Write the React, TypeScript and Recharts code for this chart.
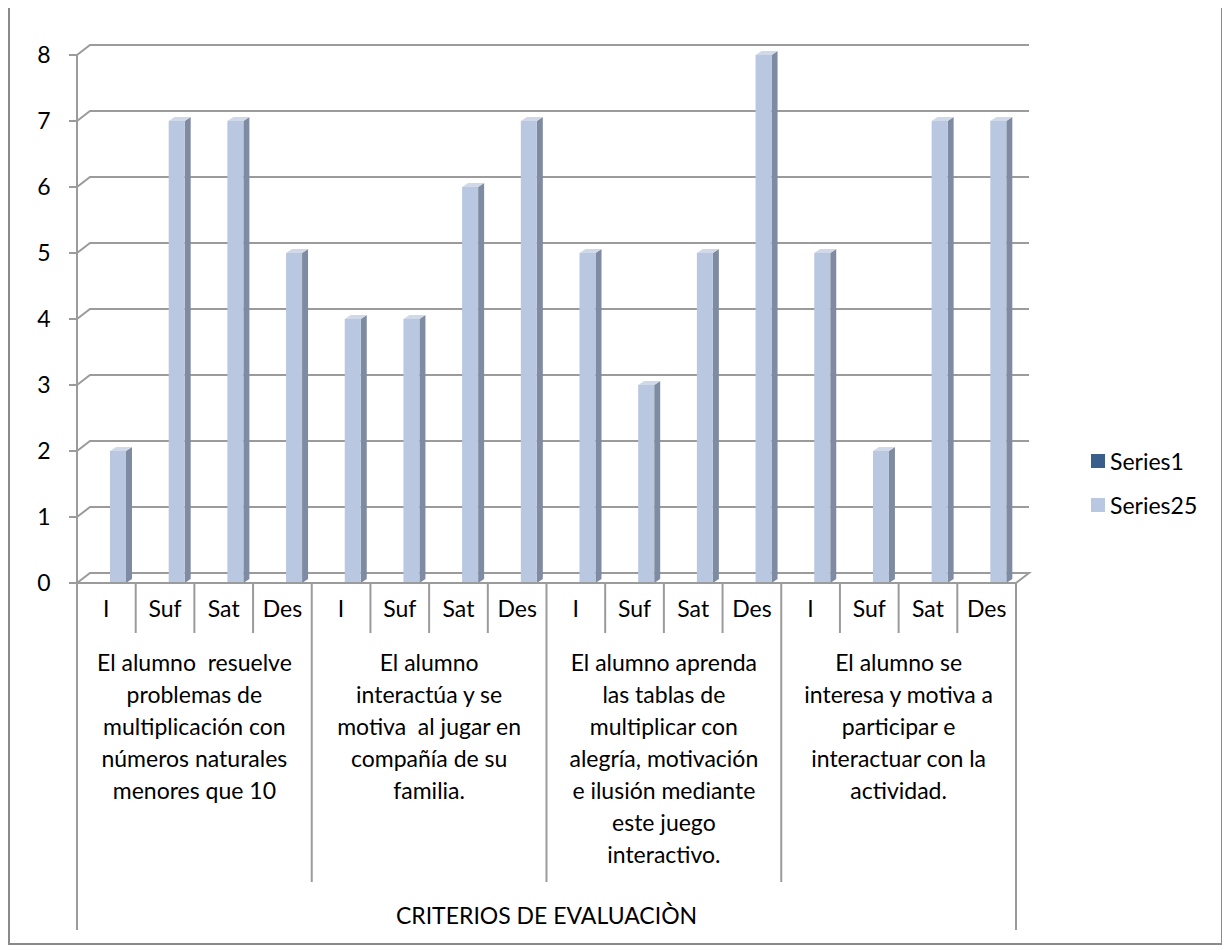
import { BarChart, Bar, XAxis, YAxis, CartesianGrid, Legend } from "recharts";

const categorias = ["I", "Suf", "Sat", "Des", "I", "Suf", "Sat", "Des", "I", "Suf", "Sat", "Des", "I", "Suf", "Sat", "Des"];
const grupos = ["G1", "G2", "G3", "G4"];
const gruposLineas = [
  ["El alumno  resuelve", "problemas de", "multiplicación con", "números naturales", "menores que 10"],
  ["El alumno", "interactúa y se", "motiva  al jugar en", "compañía de su", "familia."],
  ["El alumno aprenda", "las tablas de", "multiplicar con", "alegría, motivación", "e ilusión mediante", "este juego", "interactivo."],
  ["El alumno se", "interesa y motiva a", "participar e", "interactuar con la", "actividad."],
];
const series1: (number | null)[] = [null, null, null, null, null, null, null, null, null, null, null, null, null, null, null, null];
const series25 = [2, 7, 7, 5, 4, 4, 6, 7, 5, 3, 5, 8, 5, 2, 7, 7];
const yTicks = [0, 1, 2, 3, 4, 5, 6, 7, 8];
const tituloEje = "CRITERIOS DE EVALUACIÒN";

const data = categorias.map((cat, i) => ({
  cat,
  grupo: grupos[Math.floor(i / 4)],
  Series1: series1[i],
  Series25: series25[i],
}));

// layout (chart coords)
const W = 1211;
const H = 935;
const PLOT_LEFT = 67;
const PLOT_RIGHT = 1006;
const PLOT_BOTTOM = 575;
const BAND = (PLOT_RIGHT - PLOT_LEFT) / categorias.length;
const DX = 13;
const DY = 10;
const GRID = "#9b9b9b";
const FONT = "Lato, 'Noto Sans', sans-serif";
const FS = 23;
const FRONT = "#b9c7e0";
const SIDE = "#7f8ba2";
const TOP = "#cfd9ea";

const gridLine = (p: any) => {
  const { x1, x2, y1 } = p;
  const piso = Math.abs(y1 - PLOT_BOTTOM) < 1;
  const pts =
    `${x1},${y1} ${x1 + DX},${y1 - DY} ${x2 + DX},${y1 - DY}` + (piso ? ` ${x2},${y1}` : "");
  return <polyline key={p.key ?? `g${p.index}`} points={pts} fill="none" stroke={GRID} strokeWidth={2} />;
};

const YTick = (p: any) => (
  <text x={34} y={p.y} dy={8} textAnchor="middle" fontSize={FS} fontFamily={FONT} fill="#000">
    {p.payload.value}
  </text>
);

const CatTick = (p: any) => {
  const i = p.index ?? p.payload.index;
  const x = p.x;
  const der = x + BAND / 2;
  const largo = i === categorias.length - 1 ? 347 : (i + 1) % 4 === 0 ? 299 : 50;
  return (
    <g>
      {i === 0 && (
        <line x1={x - BAND / 2} y1={PLOT_BOTTOM} x2={x - BAND / 2} y2={PLOT_BOTTOM + 347} stroke={GRID} strokeWidth={2} />
      )}
      <line x1={der} y1={PLOT_BOTTOM} x2={der} y2={PLOT_BOTTOM + largo} stroke={GRID} strokeWidth={2} />
      <text x={x} y={PLOT_BOTTOM + 26} dy={8} textAnchor="middle" fontSize={FS} fontFamily={FONT} fill="#000">
        {p.payload.value}
      </text>
    </g>
  );
};

const GrupoTick = (p: any) => {
  const i = p.index ?? p.payload.index;
  if (i % 4 !== 1) return <g />;
  const cx = p.x + BAND / 2;
  const lineas = gruposLineas[Math.floor(i / 4)];
  return (
    <text x={cx} y={PLOT_BOTTOM + 80} textAnchor="middle" fontSize={FS} fontFamily={FONT} fill="#000" style={{ whiteSpace: "pre" }}>
      {lineas.map((l, k) => (
        <tspan key={k} x={cx} dy={k === 0 ? 8 : 32}>
          {l}
        </tspan>
      ))}
    </text>
  );
};

const Barra3D = (p: any) => {
  const { x, y, width: w, height: h } = p;
  if (!h || h <= 0) return <g />;
  const d = 6;
  const t = 4;
  return (
    <g>
      <polygon points={`${x + w},${y} ${x + w + d},${y - t} ${x + w + d},${y + h - t} ${x + w},${y + h}`} fill={SIDE} />
      <polygon points={`${x},${y} ${x + d},${y - t} ${x + w + d},${y - t} ${x + w},${y}`} fill={TOP} />
      <rect x={x} y={y} width={w} height={h} fill={FRONT} />
    </g>
  );
};

const LegendContent = (p: any) => (
  <div>
    {(p.payload ?? []).map((e: any) => (
      <div key={e.value} style={{ display: "flex", alignItems: "center", height: 44 }}>
        <span style={{ width: 14, height: 14, background: e.color, marginRight: 5, display: "inline-block" }} />
        <span style={{ fontSize: FS, fontFamily: FONT, color: "#000" }}>{e.value}</span>
      </div>
    ))}
  </div>
);

export default function App() {
  return (
    <div
      style={{
        marginTop: -2,
        width: 1215,
        height: 939,
        border: "2px solid #8a8a8a",
        boxSizing: "border-box",
        background: "#fff",
      }}
    >
      <BarChart
        width={W}
        height={H}
        data={data}
        margin={{ top: 47, right: W - PLOT_RIGHT, left: 7, bottom: 0 }}
        barGap={8}
      >
        <CartesianGrid vertical={false} horizontal={gridLine} />
        <YAxis
          domain={[0, 8]}
          ticks={yTicks}
          width={60}
          tickSize={8}
          axisLine={{ stroke: GRID, strokeWidth: 2 }}
          tickLine={{ stroke: GRID, strokeWidth: 2 }}
          tick={YTick}
        />
        <XAxis
          dataKey="cat"
          interval={0}
          height={50}
          tickLine={false}
          axisLine={{ stroke: GRID, strokeWidth: 2 }}
          tick={CatTick}
        />
        <XAxis
          xAxisId="grupo"
          dataKey="grupo"
          interval={0}
          height={310}
          tickLine={false}
          axisLine={false}
          tick={GrupoTick}
          label={{
            content: () => (
              <text
                x={PLOT_LEFT + (PLOT_RIGHT - PLOT_LEFT) / 2}
                y={PLOT_BOTTOM + 333}
                dy={8}
                textAnchor="middle"
                fontSize={FS}
                fontFamily={FONT}
                fill="#000"
              >
                {tituloEje}
              </text>
            ),
          }}
        />
        <Legend
          layout="horizontal"
          align="center"
          verticalAlign="middle"
          wrapperStyle={{ left: 1081, top: 431, width: 130 }}
          content={LegendContent}
        />
        <Bar dataKey="Series1" fill="#3a5e8c" barSize={16} isAnimationActive={false} shape={Barra3D} />
        <Bar dataKey="Series25" fill={FRONT} barSize={16} isAnimationActive={false} shape={Barra3D} />
      </BarChart>
    </div>
  );
}
